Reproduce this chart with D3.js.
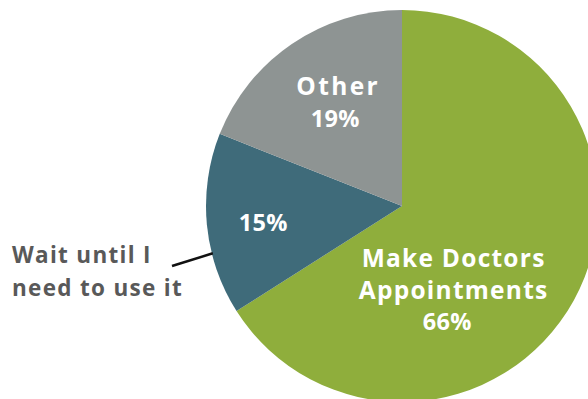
<!DOCTYPE html>
<html>
<head>
<meta charset="utf-8">
<script src="https://cdn.jsdelivr.net/npm/d3@7"></script>
<style>
  html, body { margin: 0; padding: 0; background: #fff; }
  svg { display: block; }
  text { font-family: "Open Sans", Lato, sans-serif; font-weight: 700; }
</style>
</head>
<body>
<svg id="chart" width="588" height="399"></svg>
<script>
// Survey responses (percent of respondents)
const categories = ["Make Doctors Appointments", "Wait until I need to use it", "Other"];
const values = [66, 15, 19];
const colors = ["#8fae3c", "#3f6b7a", "#8e9493"];
// Label lines drawn inside each slice
const sliceLabels = [["Make Doctors", "Appointments", "66%"], ["15%"], ["Other", "19%"]];
const outsideLabel = ["Wait until I", "need to use it"];

const svg = d3.select("#chart");
const cx = 402, cy = 206, radius = 196;

const pie = d3.pie().sort(null).value(d => d)(values);
const arc = d3.arc().innerRadius(0).outerRadius(radius);

const g = svg.append("g").attr("transform", `translate(${cx},${cy})`);

g.selectAll("path")
  .data(pie)
  .join("path")
  .attr("d", arc)
  .attr("fill", (d, i) => colors[i]);

// Label anchor points relative to centre, per slice (dx nudges individual lines)
const labelPos = [
  { x: 51, y: 61, lh: 31.5, dx: [0, 0, -6] },
  { x: -139, y: 25, lh: 0, dx: [0] },
  { x: -65, y: -111, lh: 32, dx: [0, -2] }
];
// words are set larger and looser than the percentages
const lineStyle = line => /\d/.test(line)
  ? { size: 23.5, ls: 0.3 }
  : { size: 24.5, ls: line === "Other" ? 2.4 : 1.25 };

pie.forEach((d, i) => {
  const p = labelPos[i];
  const t = g.append("text")
    .attr("text-anchor", "middle")
    .attr("fill", "#ffffff");
  sliceLabels[i].forEach((line, k) => {
    const s = lineStyle(line);
    t.append("tspan")
      .attr("x", p.x + p.dx[k] + s.ls / 2)
      .attr("y", p.y + k * p.lh)
      .attr("font-size", s.size)
      .attr("letter-spacing", s.ls)
      .text(line);
  });
});

// Outside label with a leader line into the teal slice
const lbl = svg.append("text")
  .attr("fill", "#595959")
  .attr("font-size", 22.5)
  .attr("letter-spacing", 1.3);
outsideLabel.forEach((line, k) => {
  lbl.append("tspan").attr("x", 12).attr("y", 263 + k * 33).text(line);
});

const a = pie[1].startAngle + 0.34 * (pie[1].endAngle - pie[1].startAngle);
svg.append("line")
  .attr("x1", 172).attr("y1", 266)
  .attr("x2", cx + Math.sin(a) * (radius - 1))
  .attr("y2", cy - Math.cos(a) * (radius - 1))
  .attr("stroke", "#111")
  .attr("stroke-width", 2.5);
</script>
</body>
</html>
